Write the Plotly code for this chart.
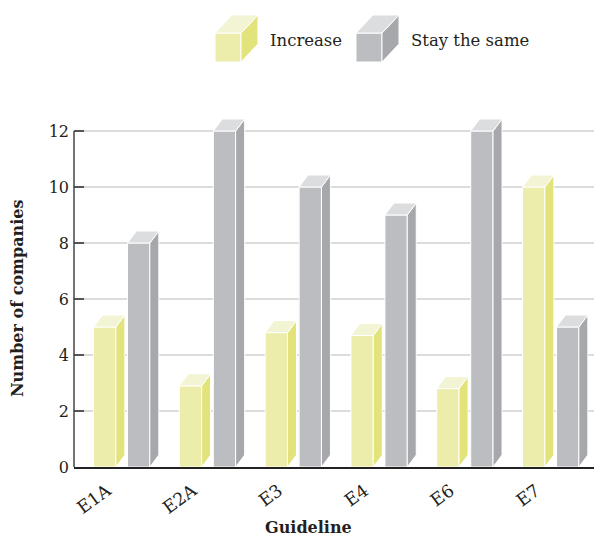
import plotly.graph_objects as go

# Survey results per guideline
guidelines = ["E1A", "E2A", "E3", "E4", "E6", "E7"]
increase = [5, 2.9, 4.8, 4.7, 2.8, 10]
stay_same = [8, 12, 10, 9, 12, 5]

# Page geometry (pixels)
W, H = 594, 536
ML, MR, MT, MB = 74, 0, 111, 69
PW = W - ML - MR
PH = H - MT - MB
PX_PER_CAT = 85.8
PX_PER_UNIT = 28.0

x_min = -(121.7 - ML) / PX_PER_CAT
x_max = x_min + PW / PX_PER_CAT
y_max = PH / PX_PER_UNIT

bar_w = 0.26
offset = 0.198
depth_x = 9 / PX_PER_CAT
depth_y = 12 / PX_PER_UNIT
label_shift = -0.17  # category labels sit a little left of each bar pair

FONT = "DejaVu Serif"
TEXT = "#231f20"

series = [
    dict(name="Increase", values=increase, shift=-offset,
         front="#ededab", side="#e3e37c", top="#f3f4d3"),
    dict(name="Stay the same", values=stay_same, shift=offset,
         front="#bcbdc1", side="#a7a8ac", top="#dcdddf"),
]

fig = go.Figure()

# Front faces of the bars
for s in series:
    xs = [i + s["shift"] for i in range(len(guidelines))]
    fig.add_trace(go.Bar(
        x=xs, y=s["values"], width=bar_w, name=s["name"],
        marker=dict(color=s["front"], line=dict(color="white", width=1)),
        showlegend=False, hoverinfo="skip",
    ))

# Side and top faces giving the bars their depth
for s in series:
    side_x, side_y, top_x, top_y = [], [], [], []
    for i, v in enumerate(s["values"]):
        right = i + s["shift"] + bar_w / 2
        left = i + s["shift"] - bar_w / 2
        side_x += [right, right + depth_x, right + depth_x, right, right, None]
        side_y += [0, depth_y, v + depth_y, v, 0, None]
        top_x += [left, right, right + depth_x, left + depth_x, left, None]
        top_y += [v, v, v + depth_y, v + depth_y, v, None]
    fig.add_trace(go.Scatter(
        x=side_x, y=side_y, mode="lines", fill="toself",
        fillcolor=s["side"], line=dict(color="white", width=1),
        showlegend=False, hoverinfo="skip",
    ))
    fig.add_trace(go.Scatter(
        x=top_x, y=top_y, mode="lines", fill="toself",
        fillcolor=s["top"], line=dict(color="white", width=1),
        showlegend=False, hoverinfo="skip",
    ))


def px_to_paper(px, py):
    return (px - ML) / PW, (H - MB - py) / PH


def poly(points):
    pts = [px_to_paper(x, y) for x, y in points]
    return "M " + " L ".join(f"{x:.4f},{y:.4f}" for x, y in pts) + " Z"


# Legend cubes
shapes = []
annotations = []
legend_items = [
    (series[0], 215, 268),
    (series[1], 356, 409),
]
for s, x0, tx in legend_items:
    w, h, dx, dy = 26, 29, 17, 18
    y0 = 33
    faces = [
        ([(x0, y0), (x0 + w, y0), (x0 + w, y0 + h), (x0, y0 + h)], s["front"]),
        ([(x0 + w, y0), (x0 + w + dx, y0 - dy), (x0 + w + dx, y0 + h - dy),
          (x0 + w, y0 + h)], s["side"]),
        ([(x0, y0), (x0 + dx, y0 - dy), (x0 + w + dx, y0 - dy), (x0 + w, y0)],
         s["top"]),
    ]
    for pts, col in faces:
        shapes.append(dict(type="path", path=poly(pts), xref="paper", yref="paper",
                           fillcolor=col, line=dict(color="white", width=1)))
    ax, ay = px_to_paper(tx, 40)
    annotations.append(dict(text=s["name"], x=ax, y=ay, xref="paper", yref="paper",
                            xanchor="left", yanchor="middle", showarrow=False,
                            font=dict(family=FONT, size=16.5, color=TEXT)))

# Vertical axis line from 0 to 12
shapes.append(dict(type="line", xref="paper", yref="y", x0=0, x1=0, y0=0, y1=12,
                   line=dict(color="#444444", width=1.5)))

# Axis titles
tx, ty = px_to_paper(17, 299)
annotations.append(dict(text="<b>Number of companies</b>", x=tx, y=ty,
                        xref="paper", yref="paper", textangle=-90,
                        showarrow=False, xanchor="center", yanchor="middle",
                        font=dict(family=FONT, size=16, color=TEXT)))
tx, ty = px_to_paper(308, 527)
annotations.append(dict(text="<b>Guideline</b>", x=tx, y=ty,
                        xref="paper", yref="paper", showarrow=False,
                        xanchor="center", yanchor="middle",
                        font=dict(family=FONT, size=16, color=TEXT)))

fig.update_layout(
    width=W, height=H,
    margin=dict(l=ML, r=MR, t=MT, b=MB),
    paper_bgcolor="white", plot_bgcolor="white",
    barmode="overlay",
    shapes=shapes, annotations=annotations,
    font=dict(family=FONT, size=16, color=TEXT),
    xaxis=dict(
        range=[x_min, x_max],
        tickvals=[i + label_shift for i in range(len(guidelines))],
        ticktext=guidelines, tickangle=-36, showgrid=False, zeroline=False,
        showline=True, linecolor="#222222", linewidth=1.5, ticks="",
        tickfont=dict(family=FONT, size=17.5, color=TEXT), fixedrange=True,
        ticklabelstandoff=5,
    ),
    yaxis=dict(
        range=[0, y_max], tickvals=[0, 2, 4, 6, 8, 10, 12],
        showgrid=True, gridcolor="#dcdcdc", gridwidth=1.5, zeroline=False,
        showline=False, ticks="inside", ticklen=10, tickwidth=1.5,
        tickcolor="#555555", tickfont=dict(family=FONT, size=16, color=TEXT),
        ticklabelstandoff=4, fixedrange=True,
    ),
)

fig.write_html("out.html")
